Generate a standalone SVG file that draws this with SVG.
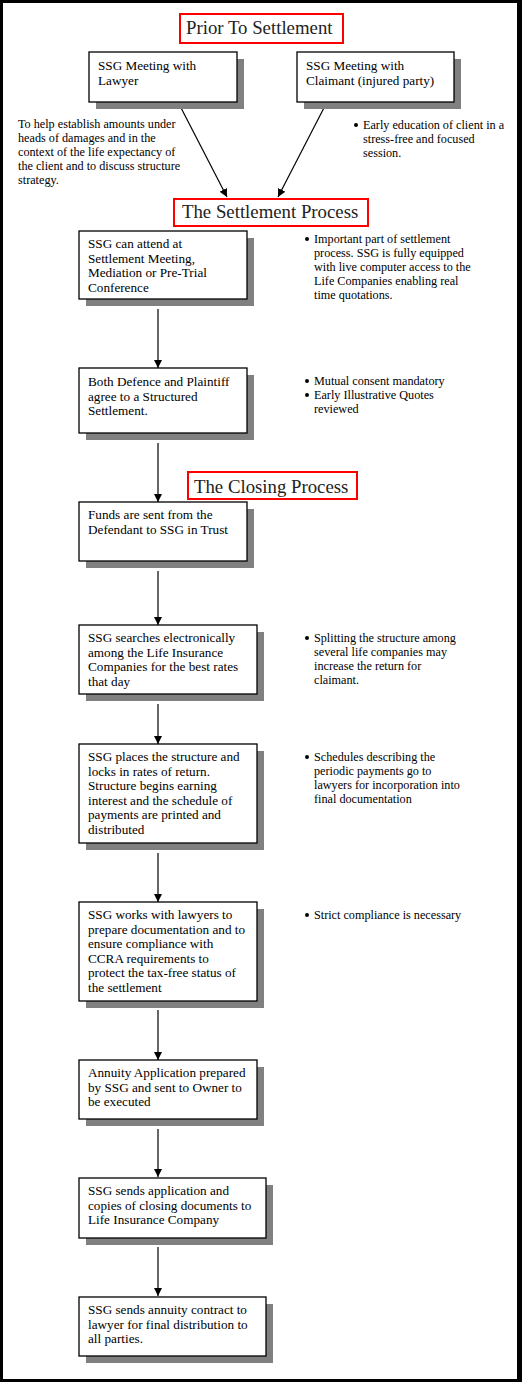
<svg xmlns="http://www.w3.org/2000/svg" width="522" height="1382" viewBox="0 0 522 1382">
<defs>
<style>
.box{fill:#fff;stroke:#000;stroke-width:1.3}
.sh{fill:#808080}
.t{font-family:"Liberation Serif","Times New Roman",serif;font-size:13.2px;fill:#000}
.n{font-family:"Liberation Serif","Times New Roman",serif;font-size:12.2px;fill:#000}
.h{font-family:"Liberation Serif","Times New Roman",serif;font-size:18.8px;fill:#222}
.hb{fill:#fff;stroke:#f00;stroke-width:2}
.c{stroke:#000;stroke-width:1.2;fill:none;marker-end:url(#ah)}
</style>
<marker id="ah" viewBox="0 0 10 10" refX="10" refY="5" markerWidth="8" markerHeight="8" markerUnits="userSpaceOnUse" orient="auto">
<path d="M0,0 L10,5 L0,10 z" fill="#000"/>
</marker>
</defs>
<rect x="0" y="0" width="522" height="1382" fill="#000"/>
<rect x="3" y="3" width="514" height="1376" fill="#fff"/>

<g id="connectors">
<line class="c" x1="178" y1="102" x2="227" y2="197"/>
<line class="c" x1="327" y1="102" x2="278" y2="197"/>
<line class="c" x1="158" y1="309" x2="158" y2="368"/>
<line class="c" x1="158" y1="443" x2="158" y2="502"/>
<line class="c" x1="158" y1="571" x2="158" y2="625"/>
<line class="c" x1="158" y1="704" x2="158" y2="744"/>
<line class="c" x1="158" y1="853" x2="158" y2="902"/>
<line class="c" x1="158" y1="1010" x2="158" y2="1060"/>
<line class="c" x1="158" y1="1129" x2="158" y2="1177"/>
<line class="c" x1="158" y1="1247" x2="158" y2="1296"/>
</g>

<g id="title-prior">
<rect class="hb" x="180" y="14" width="163" height="29"/>
<text class="h" x="186" y="34">Prior To Settlement</text>
</g>

<g id="node-lawyer">
<rect class="sh" x="96" y="59" width="148" height="50"/>
<rect class="box" x="89" y="52" width="148" height="50"/>
<text class="t" x="98" y="70">SSG Meeting with</text>
<text class="t" x="98" y="85">Lawyer</text>
</g>

<g id="node-claimant">
<rect class="sh" x="304" y="59" width="157" height="50"/>
<rect class="box" x="297" y="52" width="157" height="50"/>
<text class="t" x="306" y="70">SSG Meeting with</text>
<text class="t" x="306" y="85">Claimant (injured party)</text>
</g>

<g id="note-lawyer">
<text class="n" x="18" y="128">To help establish amounts under</text>
<text class="n" x="18" y="142">heads of damages and in the</text>
<text class="n" x="18" y="156">context of the life expectancy of</text>
<text class="n" x="18" y="170">the client and to discuss structure</text>
<text class="n" x="18" y="184">strategy.</text>
</g>

<g id="note-claimant">
<circle cx="356" cy="125" r="2"/>
<text class="n" x="363" y="129">Early education of client in a</text>
<text class="n" x="363" y="143">stress-free and focused</text>
<text class="n" x="363" y="157">session.</text>
</g>

<g id="title-settlement">
<rect class="hb" x="174" y="199" width="194" height="27"/>
<text class="h" x="182" y="218">The Settlement Process</text>
</g>

<g id="node-attend">
<rect class="sh" x="86" y="238" width="168" height="68"/>
<rect class="box" x="79" y="231" width="168" height="68"/>
<text class="t" x="88" y="248">SSG can attend at</text>
<text class="t" x="88" y="263">Settlement Meeting,</text>
<text class="t" x="88" y="277">Mediation or Pre-Trial</text>
<text class="t" x="88" y="292">Conference</text>
</g>

<g id="note-attend">
<circle cx="307" cy="239" r="2"/>
<text class="n" x="314" y="243">Important part of settlement</text>
<text class="n" x="314" y="257">process. SSG is fully equipped</text>
<text class="n" x="314" y="271">with live computer access to the</text>
<text class="n" x="314" y="285">Life Companies enabling real</text>
<text class="n" x="314" y="299">time quotations.</text>
</g>

<g id="node-agree">
<rect class="sh" x="86" y="375" width="168" height="65"/>
<rect class="box" x="79" y="368" width="168" height="65"/>
<text class="t" x="88" y="386">Both Defence and Plaintiff</text>
<text class="t" x="88" y="401">agree to a Structured</text>
<text class="t" x="88" y="415">Settlement.</text>
</g>

<g id="note-agree">
<circle cx="307" cy="381" r="2"/>
<text class="n" x="314" y="385">Mutual consent mandatory</text>
<circle cx="307" cy="395" r="2"/>
<text class="n" x="314" y="399">Early Illustrative Quotes</text>
<text class="n" x="314" y="413">reviewed</text>
</g>

<g id="title-closing">
<rect class="hb" x="188" y="472" width="169" height="27"/>
<text class="h" x="194" y="493">The Closing Process</text>
</g>

<g id="node-funds">
<rect class="sh" x="86" y="509" width="168" height="59"/>
<rect class="box" x="79" y="502" width="168" height="59"/>
<text class="t" x="88" y="519">Funds are sent from the</text>
<text class="t" x="88" y="534">Defendant to SSG in Trust</text>
</g>

<g id="node-search">
<rect class="sh" x="86" y="632" width="178" height="69"/>
<rect class="box" x="79" y="625" width="178" height="69"/>
<text class="t" x="88" y="642">SSG searches electronically</text>
<text class="t" x="88" y="657">among the Life Insurance</text>
<text class="t" x="88" y="671">Companies for the best rates</text>
<text class="t" x="88" y="686">that day</text>
</g>

<g id="note-search">
<circle cx="307" cy="638" r="2"/>
<text class="n" x="314" y="642">Splitting the structure among</text>
<text class="n" x="314" y="656">several life companies may</text>
<text class="n" x="314" y="670">increase the return for</text>
<text class="n" x="314" y="684">claimant.</text>
</g>

<g id="node-places">
<rect class="sh" x="86" y="751" width="178" height="99"/>
<rect class="box" x="79" y="744" width="178" height="99"/>
<text class="t" x="88" y="761">SSG places the structure and</text>
<text class="t" x="88" y="776">locks in rates of return.</text>
<text class="t" x="88" y="790">Structure begins earning</text>
<text class="t" x="88" y="805">interest and the schedule of</text>
<text class="t" x="88" y="819">payments are printed and</text>
<text class="t" x="88" y="834">distributed</text>
</g>

<g id="note-places">
<circle cx="307" cy="757" r="2"/>
<text class="n" x="314" y="761">Schedules describing the</text>
<text class="n" x="314" y="775">periodic payments go to</text>
<text class="n" x="314" y="789">lawyers for incorporation into</text>
<text class="n" x="314" y="803">final documentation</text>
</g>

<g id="node-works">
<rect class="sh" x="86" y="909" width="178" height="99"/>
<rect class="box" x="79" y="902" width="178" height="99"/>
<text class="t" x="88" y="919">SSG works with lawyers to</text>
<text class="t" x="88" y="934">prepare documentation and to</text>
<text class="t" x="88" y="948">ensure compliance with</text>
<text class="t" x="88" y="963">CCRA requirements to</text>
<text class="t" x="88" y="977">protect the tax-free status of</text>
<text class="t" x="88" y="992">the settlement</text>
</g>

<g id="note-works">
<circle cx="307" cy="915" r="2"/>
<text class="n" x="314" y="919">Strict compliance is necessary</text>
</g>

<g id="node-annuity">
<rect class="sh" x="86" y="1067" width="178" height="59"/>
<rect class="box" x="79" y="1060" width="178" height="59"/>
<text class="t" x="88" y="1077">Annuity Application prepared</text>
<text class="t" x="88" y="1092">by SSG and sent to Owner to</text>
<text class="t" x="88" y="1106">be executed</text>
</g>

<g id="node-sends-app">
<rect class="sh" x="86" y="1185" width="187" height="60"/>
<rect class="box" x="79" y="1178" width="187" height="60"/>
<text class="t" x="88" y="1195">SSG sends application and</text>
<text class="t" x="88" y="1210">copies of closing documents to</text>
<text class="t" x="88" y="1224">Life Insurance Company</text>
</g>

<g id="node-sends-contract">
<rect class="sh" x="86" y="1304" width="187" height="59"/>
<rect class="box" x="79" y="1297" width="187" height="59"/>
<text class="t" x="88" y="1314">SSG sends annuity contract to</text>
<text class="t" x="88" y="1329">lawyer for final distribution to</text>
<text class="t" x="88" y="1343">all parties.</text>
</g>
</svg>
